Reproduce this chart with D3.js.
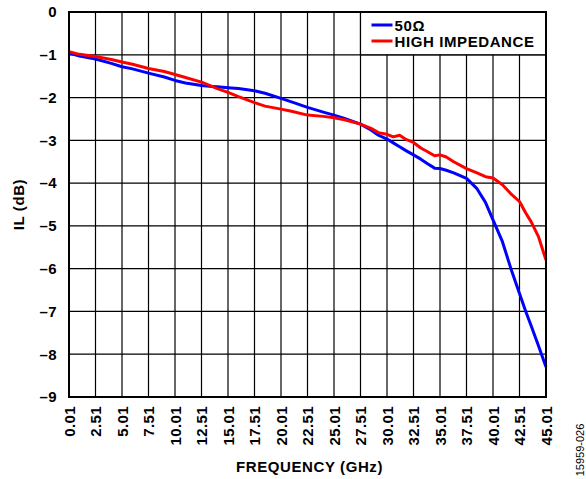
<!DOCTYPE html>
<html>
<head>
<meta charset="utf-8">
<script src="https://cdn.jsdelivr.net/npm/d3@7"></script>
<style>
  body { margin: 0; background: #fff; }
  svg { display: block; font-family: "Liberation Sans", Arial, sans-serif; }
  .tick text { font-weight: bold; font-size: 15px; letter-spacing: 0.4px; fill: #000; }
</style>
</head>
<body>
<svg width="586" height="479"></svg>
<script>
// frequency points (GHz)
var freq = [0.01, 1, 2.51, 4, 5.01, 6, 7.51, 9, 10.01, 11, 12.51, 13.5, 14, 15.01, 16, 17.51, 18.5,
  20.01, 21, 22.51, 24, 25.01, 26, 27.51, 28.5, 29.2, 30.01, 30.6, 31.2, 31.8, 32.51, 33.2, 33.8,
  34.5, 35.01, 35.6, 36.3, 37.51, 38.5, 39.3, 40.01, 40.9, 41.7, 42.51, 43.1, 43.6, 44.3, 45.01];

// insertion loss, 50 ohm
var il50 = [-0.96, -1.03, -1.10, -1.20, -1.28, -1.33, -1.43, -1.52, -1.60, -1.66, -1.72, -1.74, -1.75,
  -1.77, -1.79, -1.84, -1.90, -2.02, -2.10, -2.23, -2.34, -2.41, -2.49, -2.62, -2.76, -2.88, -2.97,
  -3.06, -3.15, -3.24, -3.34, -3.44, -3.54, -3.65, -3.66, -3.70, -3.76, -3.89, -4.13, -4.45, -4.86,
  -5.37, -6.00, -6.58, -7.00, -7.33, -7.80, -8.30];

// insertion loss, high impedance
var ilHiZ = [-0.93, -0.99, -1.04, -1.11, -1.17, -1.22, -1.32, -1.39, -1.46, -1.53, -1.64, -1.74, -1.79,
  -1.88, -1.98, -2.12, -2.20, -2.27, -2.32, -2.41, -2.44, -2.47, -2.52, -2.62, -2.72, -2.82, -2.86,
  -2.92, -2.88, -2.98, -3.05, -3.18, -3.26, -3.36, -3.34, -3.39, -3.50, -3.66, -3.76, -3.85, -3.88,
  -4.04, -4.25, -4.43, -4.70, -4.90, -5.25, -5.80];

var xTicks = [0.01, 2.51, 5.01, 7.51, 10.01, 12.51, 15.01, 17.51, 20.01, 22.51, 25.01, 27.51,
  30.01, 32.51, 35.01, 37.51, 40.01, 42.51, 45.01];
var yTicks = [0, -1, -2, -3, -4, -5, -6, -7, -8, -9];

var seriesNames = ["50\u03A9", "HIGH IMPEDANCE"];
var seriesColors = ["#0000ff", "#ff0000"];

var margin = { top: 12, right: 40, bottom: 82, left: 69 };
var svg = d3.select("svg");
var width = +svg.attr("width") - margin.left - margin.right;
var height = +svg.attr("height") - margin.top - margin.bottom;

var x = d3.scaleLinear().domain([0.01, 45.01]).range([0, width]);
var y = d3.scaleLinear().domain([-9, 0]).range([height, 0]);

var g = svg.append("g").attr("transform", "translate(" + margin.left + "," + margin.top + ")");

// grid
g.selectAll(".vgrid").data(xTicks).enter().append("line")
  .attr("x1", d => x(d)).attr("x2", d => x(d))
  .attr("y1", 0).attr("y2", height)
  .attr("stroke", "#000").attr("stroke-width", 1.2);
g.selectAll(".hgrid").data(yTicks).enter().append("line")
  .attr("x1", 0).attr("x2", width)
  .attr("y1", d => y(d)).attr("y2", d => y(d))
  .attr("stroke", "#000").attr("stroke-width", 1.2);

// legend box sits over the top-right grid cells
var lg = g.append("g");
lg.append("rect")
  .attr("x", x(27.51)).attr("y", y(0))
  .attr("width", x(45.01) - x(27.51)).attr("height", y(-1) - y(0))
  .attr("fill", "#fff").attr("stroke", "#000").attr("stroke-width", 1.2);
seriesNames.forEach(function(name, i) {
  var ly = 13 + i * 16;
  lg.append("line")
    .attr("x1", x(27.51) + 11).attr("x2", x(27.51) + 32)
    .attr("y1", ly).attr("y2", ly)
    .attr("stroke", seriesColors[i]).attr("stroke-width", 3);
  lg.append("text")
    .attr("x", x(27.51) + 34).attr("y", ly + 5.5)
    .attr("font-size", 15).attr("font-weight", "bold").attr("letter-spacing", 0.6)
    .text(name);
});

// lines
var line = d3.line().x(d => x(d[0])).y(d => y(d[1]));
[il50, ilHiZ].forEach(function(vals, i) {
  g.append("path")
    .datum(freq.map((f, k) => [f, vals[k]]))
    .attr("fill", "none")
    .attr("stroke", seriesColors[i])
    .attr("stroke-width", 3)
    .attr("stroke-linejoin", "round")
    .attr("d", line);
});

// frame
g.append("rect").attr("width", width).attr("height", height)
  .attr("fill", "none").attr("stroke", "#000").attr("stroke-width", 2);

// axes
var yAxis = g.append("g")
  .call(d3.axisLeft(y).tickValues(yTicks).tickSize(0).tickPadding(12)
    .tickFormat(d => d === 0 ? "0" : "\u2013" + Math.abs(d)));
yAxis.select(".domain").remove();

var xAxis = g.append("g")
  .attr("transform", "translate(0," + height + ")")
  .call(d3.axisBottom(x).tickValues(xTicks).tickSize(0).tickFormat(d3.format(".2f")));
xAxis.select(".domain").remove();
xAxis.selectAll("text")
  .attr("transform", "rotate(-90)")
  .attr("text-anchor", "end")
  .attr("x", -9).attr("y", 0).attr("dy", "0.35em");

// titles
svg.append("text")
  .attr("x", margin.left + width / 2 + 2).attr("y", 472)
  .attr("text-anchor", "middle").attr("font-size", 15).attr("font-weight", "bold")
  .attr("letter-spacing", 0.6)
  .text("FREQUENCY (GHz)");
svg.append("text")
  .attr("transform", "translate(24," + (margin.top + height / 2) + ") rotate(-90)")
  .attr("text-anchor", "middle").attr("font-size", 15).attr("font-weight", "bold")
  .attr("letter-spacing", 0.6)
  .text("IL (dB)");
svg.append("text")
  .attr("transform", "translate(584,450) rotate(-90)")
  .attr("text-anchor", "middle").attr("font-size", 11)
  .text("15959-026");
</script>
</body>
</html>
